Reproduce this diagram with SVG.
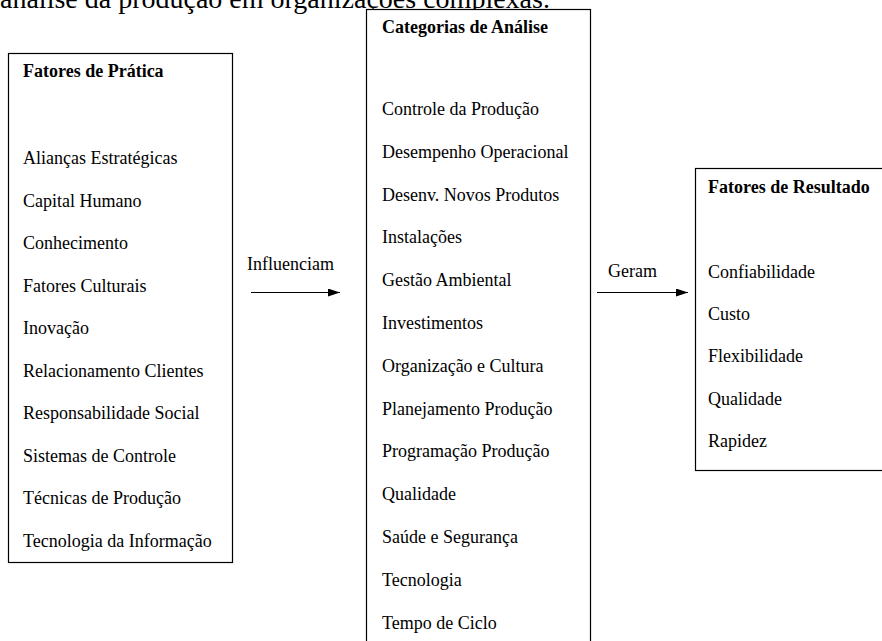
<svg xmlns="http://www.w3.org/2000/svg" width="882" height="641" viewBox="0 0 882 641">
<defs>
<style>
.box{fill:#fff;stroke:#000;stroke-width:1.2}
.t{font-family:"Liberation Serif","Times New Roman",serif;font-size:18px;fill:#000}
.h{font-family:"Liberation Serif","Times New Roman",serif;font-size:18px;font-weight:bold;fill:#000}
.top{font-family:"Liberation Serif","Times New Roman",serif;font-size:28px;fill:#000}
.conn{stroke:#000;stroke-width:1.2;fill:none}
</style>
<marker id="ah" markerWidth="12" markerHeight="8" refX="12" refY="4" orient="auto" markerUnits="userSpaceOnUse">
<path d="M0,0 L12,4 L0,8 Z" fill="#000"/>
</marker>
</defs>
<rect width="882" height="641" fill="#fff"/>
<text class="top" x="0" y="8">análise da produção em organizações complexas.</text>
<g id="fatores-pratica">
<rect class="box" x="8.5" y="53.5" width="224" height="509"/>
<text class="h" x="23" y="77">Fatores de Prática</text>
<text class="t" x="23" y="164">Alianças Estratégicas</text>
<text class="t" x="23" y="206.5">Capital Humano</text>
<text class="t" x="23" y="249">Conhecimento</text>
<text class="t" x="23" y="291.5">Fatores Culturais</text>
<text class="t" x="23" y="334">Inovação</text>
<text class="t" x="23" y="376.5">Relacionamento Clientes</text>
<text class="t" x="23" y="419">Responsabilidade Social</text>
<text class="t" x="23" y="461.5">Sistemas de Controle</text>
<text class="t" x="23" y="504">Técnicas de Produção</text>
<text class="t" x="23" y="546.5">Tecnologia da Informação</text>
</g>
<g id="categorias-analise">
<rect class="box" x="366.5" y="9.5" width="224" height="660"/>
<text class="h" x="382" y="33">Categorias de Análise</text>
<text class="t" x="382" y="115">Controle da Produção</text>
<text class="t" x="382" y="157.8">Desempenho Operacional</text>
<text class="t" x="382" y="200.6">Desenv. Novos Produtos</text>
<text class="t" x="382" y="243.4">Instalações</text>
<text class="t" x="382" y="286.2">Gestão Ambiental</text>
<text class="t" x="382" y="329">Investimentos</text>
<text class="t" x="382" y="371.8">Organização e Cultura</text>
<text class="t" x="382" y="414.6">Planejamento Produção</text>
<text class="t" x="382" y="457.4">Programação Produção</text>
<text class="t" x="382" y="500.2">Qualidade</text>
<text class="t" x="382" y="543">Saúde e Segurança</text>
<text class="t" x="382" y="585.8">Tecnologia</text>
<text class="t" x="382" y="628.6">Tempo de Ciclo</text>
</g>
<g id="fatores-resultado">
<rect class="box" x="695.5" y="168.5" width="220" height="302"/>
<text class="h" x="708" y="193">Fatores de Resultado</text>
<text class="t" x="708" y="278">Confiabilidade</text>
<text class="t" x="708" y="320.2">Custo</text>
<text class="t" x="708" y="362.4">Flexibilidade</text>
<text class="t" x="708" y="404.6">Qualidade</text>
<text class="t" x="708" y="446.8">Rapidez</text>
</g>
<g id="connectors">
<line class="conn" x1="251" y1="292.5" x2="340" y2="292.5" marker-end="url(#ah)"/>
<text class="t" x="247" y="270">Influenciam</text>
<line class="conn" x1="597" y1="292.5" x2="688" y2="292.5" marker-end="url(#ah)"/>
<text class="t" x="608" y="277">Geram</text>
</g>
</svg>
